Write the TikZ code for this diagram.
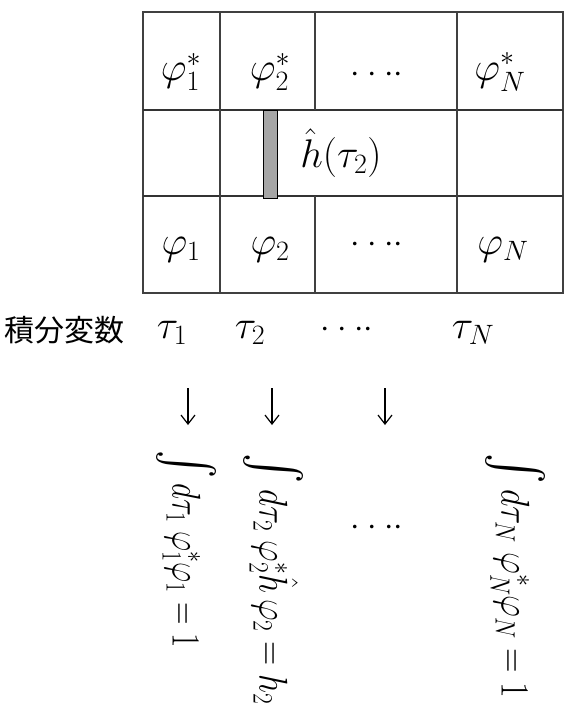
\RequirePackage{fix-cm}
\documentclass[tikz,border=0pt]{standalone}
\usepackage{amsmath,amssymb}
\usepackage{fontspec}
\newfontfamily\cjk{Noto Sans CJK JP}
\usetikzlibrary{arrows.meta,positioning}
\newcommand{\bigint}{{\fontsize{54}{60}\selectfont$\int$}}
\newcommand{\fourdots}{{\fontsize{34}{38}\selectfont$\cdot\cdot\cdot\cdot$}}

\begin{document}
\begin{tikzpicture}[
    x=1pt, y=-1pt,
    every node/.style={font=\fontsize{40}{44}\selectfont, inner sep=0pt},
    gridline/.style={line width=1.6pt, black!75},
    rowline/.style={line width=2.6pt, black!80},
    formula/.style={rotate=-90, anchor=west},
    arr/.style={-{Straight Barb[length=9pt,width=14pt]}, line width=1.2pt},
]
\useasboundingbox (0,0) rectangle (570,718);

% Grid
\draw[gridline] (143,12) rectangle (563,293);
\draw[rowline]  (143,110) -- (563,110);
\draw[rowline]  (143,196) -- (563,196);
\draw[gridline] (220,12) -- (220,293);
\draw[gridline] (315,12) -- (315,110);
\draw[gridline] (315,196) -- (315,293);
\draw[gridline] (457,12) -- (457,293);
\draw[fill=gray!70, line width=0.8pt] (263,110) rectangle (277,198);

% Nodes
\node (phi1s) at (181,72)  {$\varphi_1^*$};
\node (phi2s) at (270,72)  {$\varphi_2^*$};
\node (dots1) at (377,75)  {\fourdots};
\node (phiNs) at (500,72)  {$\varphi_N^*$};
\node (ham)   at (341,153) {$\hat{h}(\tau_2)$};
\node (phi1)  at (181,250) {$\varphi_1$};
\node (phi2)  at (270,250) {$\varphi_2$};
\node (dots2) at (377,245) {\fourdots};
\node (phiN)  at (503,250) {$\varphi_N$};

\node (var)   at (65,330)  {\fontsize{30}{34}\selectfont\cjk 積分変数};
\node (tau1)  at (172,333) {$\tau_1$};
\node (tau2)  at (250,333) {$\tau_2$};
\node (dots3) at (347,330) {\fourdots};
\node (tauN)  at (473,333) {$\tau_N$};

\node[formula, xscale=0.78] (int1) at (186,450) {\bigint\,$d\tau_1\;\varphi_1^*\varphi_1 = 1$};
\node[formula, xscale=0.84] (int2) at (273,453) {\bigint\,$d\tau_2\;\varphi_2^*\hat{h}\,\varphi_2 = h_2$};
\node                       (dots4) at (377,528) {\fourdots};
\node[formula, xscale=0.85] (intN) at (515,453) {\bigint\,$d\tau_N\;\varphi_N^*\varphi_N = 1$};

\coordinate (a1) at (188,388);
\coordinate (a2) at (272,388);
\coordinate (a3) at (385,388);
\coordinate (b1) at (188,425);
\coordinate (b2) at (272,425);
\coordinate (b3) at (385,425);

% Arrows
\draw[arr] (a1) -- (b1);
\draw[arr] (a2) -- (b2);
\draw[arr] (a3) -- (b3);

\end{tikzpicture}
\end{document}
